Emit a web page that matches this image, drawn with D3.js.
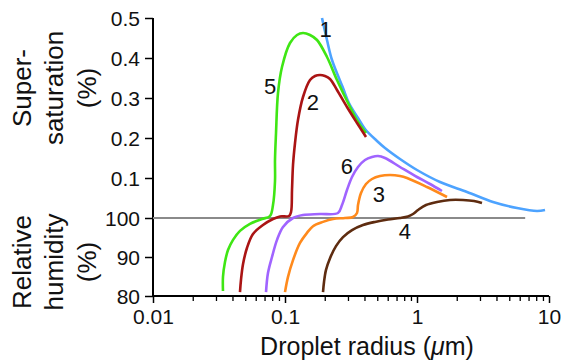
<!DOCTYPE html>
<html>
<head>
<meta charset="utf-8">
<script src="https://cdn.jsdelivr.net/npm/d3@7"></script>
<style>
  html, body { margin: 0; padding: 0; background: #fff; }
  svg { display: block; font-family: "Liberation Sans", Arial, Helvetica, sans-serif; }
</style>
</head>
<body>
<svg id="chart" width="564" height="362"></svg>
<script>
// ---- data: [radius (µm), supersaturation (%) = RH - 100] ----
const curve1 = [[0.1907,0.50],[0.208,0.445],[0.227,0.395],[0.2751,0.325],[0.305,0.2875],[0.3573,0.25],[0.4037,0.2225],[0.4977,0.1925],[0.5723,0.175],[0.7434,0.1475],[1.0,0.12],[1.494,0.09],[2.392,0.065],[3.765,0.04],[5.724,0.025],[8.11,0.0175],[9.33,0.02]];
const curve2 = [[0.0456,-19.0],[0.0464,-15.9],[0.0481,-11.8],[0.0515,-7.7],[0.0572,-4.1],[0.0681,-1.8],[0.0811,-0.26],[0.0917,0.004],[0.1072,0.005],[0.1111,0.015],[0.113,0.07],[0.115,0.1325],[0.1191,0.1875],[0.1254,0.245],[0.1369,0.3025],[0.1547,0.345],[0.1688,0.355],[0.1842,0.3575],[0.2009,0.355],[0.2193,0.3475],[0.2477,0.32],[0.2949,0.2775],[0.3512,0.2375],[0.4108,0.2025]];
const curve3 = [[0.1,-19.0],[0.1054,-15.1],[0.115,-10.8],[0.1299,-6.4],[0.1468,-3.8],[0.163,-2.1],[0.1941,-1.0],[0.231,-0.26],[0.2848,0],[0.3275,0.0025],[0.3512,0.0125],[0.3573,0.0325],[0.3765,0.0625],[0.4108,0.085],[0.4561,0.0975],[0.5245,0.105],[0.6245,0.1075],[0.7434,0.105],[0.84,0.1],[1.191,0.0775],[1.688,0.0525]];
const curve4 = [[0.1941,-19.0],[0.1975,-16.4],[0.2045,-13.3],[0.2193,-10.3],[0.2434,-7.2],[0.2751,-4.9],[0.3219,-3.1],[0.3898,-1.8],[0.4807,-1.0],[0.603,-0.4],[0.7434,0],[0.8548,0.004],[0.9327,0.01],[1.018,0.02],[1.17,0.0325],[1.418,0.04],[1.778,0.045],[2.231,0.045],[2.703,0.0425],[3.108,0.0375]];
const curve5 = [[0.0339,-18.7],[0.0339,-15.1],[0.0351,-11.3],[0.037,-8.2],[0.0404,-5.6],[0.0456,-3.3],[0.0543,-1.5],[0.067,-0.26],[0.077,0.005],[0.0811,0.0325],[0.084,0.0925],[0.084,0.145],[0.0855,0.2125],[0.0885,0.3125],[0.0949,0.3775],[0.1091,0.4375],[0.1233,0.4575],[0.1369,0.4625],[0.1547,0.4575],[0.1748,0.445],[0.2081,0.4025],[0.2477,0.345],[0.3108,0.2775],[0.3573,0.24],[0.4108,0.2125]];
const curve6 = [[0.0718,-19.0],[0.0743,-14.1],[0.0797,-10.0],[0.087,-5.6],[0.0966,-2.3],[0.115,0],[0.1369,0.0075],[0.1842,0.01],[0.252,0.0125],[0.2703,0.0325],[0.2949,0.07],[0.3219,0.1025],[0.3573,0.1275],[0.4037,0.145],[0.4561,0.1525],[0.5063,0.155],[0.5723,0.15],[0.7434,0.1275],[1.0,0.1025],[1.255,0.085],[1.546,0.0675]];
const saturationLine = [[0.01,0],[6.6,0]];

const curveNames = ["1","2","3","4","5","6"];
// label anchor positions in data units [radius, supersaturation]
const labelPos = [[0.2035,0.4725],[0.1625,0.29],[0.515,0.06],[0.811,-3.3],[0.077,0.33],[0.2949,0.13]];

const xMajorTicks = [0.01, 0.1, 1, 10];
const xTickLabels = ["0.01", "0.1", "1", "10"];
const yTicks = [-20, -10, 0, 0.1, 0.2, 0.3, 0.4, 0.5];
const yTickLabels = ["80", "90", "100", "0.1", "0.2", "0.3", "0.4", "0.5"];

const colors = ["#4da3ff", "#aa1414", "#ff8a1c", "#5e2c10", "#3fe614", "#a064ff"];

// ---- scales ----
const svg = d3.select("#chart");
const x = d3.scaleLog().domain([0.01, 10]).range([153, 549]);
const y = d3.scaleLinear().domain([-20, 0, 0.5]).range([296, 218, 18]);

// ---- axes ----
const xMinor = [];
[0.01, 0.1, 1].forEach(d => { for (let k = 2; k <= 9; k++) xMinor.push(d * k); });

const gxMinor = svg.append("g").attr("transform", "translate(0,296)")
  .call(d3.axisBottom(x).tickValues(xMinor).tickSize(5).tickFormat(""));
gxMinor.select(".domain").remove();
gxMinor.selectAll(".tick line").attr("stroke", "#000").attr("stroke-width", 1.3);

const gx = svg.append("g").attr("transform", "translate(0,296)")
  .call(d3.axisBottom(x).tickValues(xMajorTicks).tickSize(7).tickPadding(6)
    .tickFormat((d, i) => xTickLabels[i]));
gx.select(".domain").attr("d", `M${x(0.01)},0H${x(10)}`).attr("stroke", "#000").attr("stroke-width", 2);
gx.selectAll(".tick line").attr("stroke", "#000").attr("stroke-width", 1.5);
gx.selectAll(".tick text").attr("font-size", 21).attr("fill", "#111")
  .attr("font-family", "'Liberation Sans', Arial, sans-serif");

const gy = svg.append("g").attr("transform", "translate(153,0)")
  .call(d3.axisLeft(y).tickValues(yTicks).tickSize(8).tickPadding(5)
    .tickFormat((d, i) => yTickLabels[i]));
gy.select(".domain").attr("d", `M0,${y(0.5)}V${y(-20)}`).attr("stroke", "#000").attr("stroke-width", 2);
gy.selectAll(".tick line").attr("stroke", "#000").attr("stroke-width", 1.5);
gy.selectAll(".tick text").attr("font-size", 21).attr("fill", "#111")
  .attr("font-family", "'Liberation Sans', Arial, sans-serif").attr("dy", "0.36em");

// ---- saturation (100 %) line ----
const line = d3.line().x(d => x(d[0])).y(d => y(d[1])).curve(d3.curveCatmullRom.alpha(0.5));
svg.append("path").datum(saturationLine)
  .attr("d", d3.line().x(d => x(d[0])).y(d => y(d[1])))
  .attr("fill", "none").attr("stroke", "#8a8a8a").attr("stroke-width", 2);

// ---- curves ----
const curves = [curve1, curve2, curve3, curve4, curve5, curve6];
const drawOrder = [0, 2, 3, 5, 4, 1];
drawOrder.forEach(i => {
  svg.append("path").datum(curves[i])
    .attr("d", line)
    .attr("fill", "none")
    .attr("stroke", colors[i])
    .attr("stroke-width", 2.6)
    .attr("stroke-linejoin", "round")
    .attr("stroke-linecap", "butt");
});

// ---- curve labels ----
svg.append("g").selectAll("text").data(curveNames).join("text")
  .attr("x", (d, i) => x(labelPos[i][0]))
  .attr("y", (d, i) => y(labelPos[i][1]))
  .attr("dy", "0.36em")
  .attr("text-anchor", "middle")
  .attr("font-size", 22)
  .attr("fill", "#111")
  .text(d => d);

// ---- axis titles ----
const xt = svg.append("text").attr("x", 367).attr("y", 355)
  .attr("text-anchor", "middle").attr("font-size", 25).attr("fill", "#111");
xt.append("tspan").text("Droplet radius (");
xt.append("tspan").attr("font-style", "italic").text("\u03bc");
xt.append("tspan").text("m)");

function yTitle(lines, cy) {
  const g = svg.append("g").attr("transform", `translate(0,${cy}) rotate(-90)`);
  const xs = [31, 63, 96];
  lines.forEach((t, i) => {
    g.append("text").attr("x", 0).attr("y", xs[i])
      .attr("text-anchor", "middle").attr("font-size", 26).attr("fill", "#111").text(t);
  });
}
yTitle(["Super-", "saturation", "(%)"], 88);
yTitle(["Relative", "humidity", "(%)"], 262);
</script>
</body>
</html>
